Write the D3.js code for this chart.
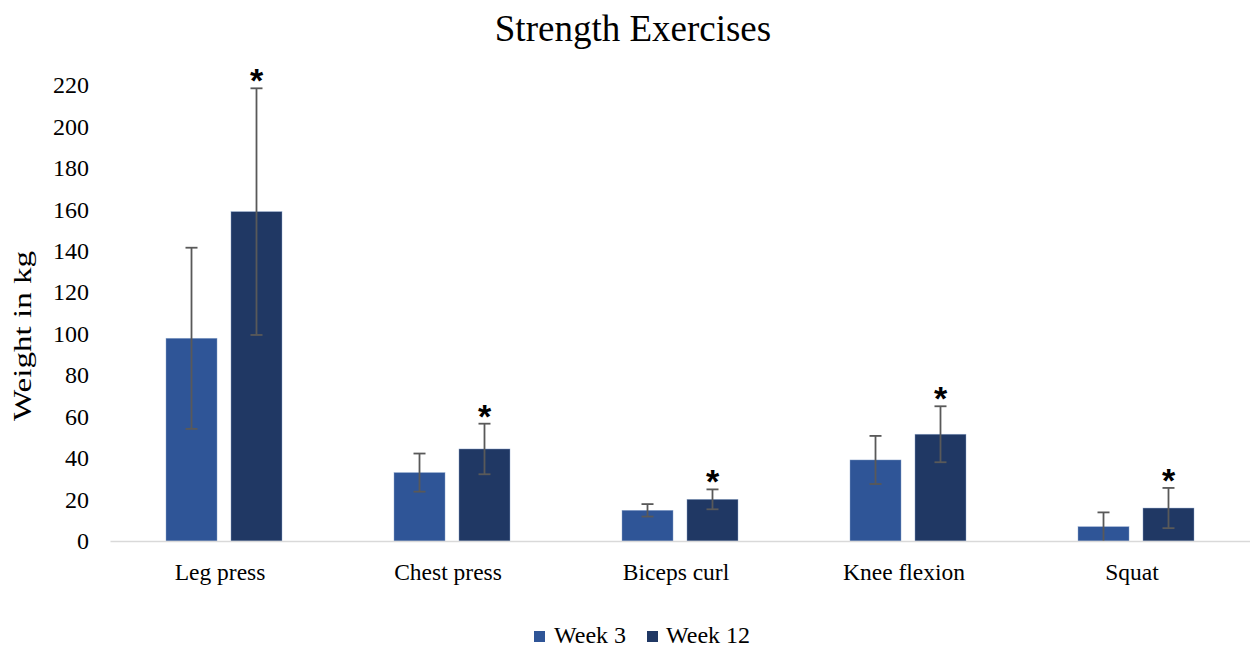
<!DOCTYPE html>
<html>
<head>
<meta charset="utf-8">
<script src="https://cdn.jsdelivr.net/npm/d3@7"></script>
<style>
  html, body { margin: 0; padding: 0; background: #fff; }
  svg { display: block; }
  text { font-family: "Liberation Serif", "Times New Roman", serif; fill: #000; }
</style>
</head>
<body>
<svg id="chart" width="1250" height="648"></svg>
<script>
const categories = ["Leg press", "Chest press", "Biceps curl", "Knee flexion", "Squat"];
const seriesNames = ["Week 3", "Week 12"];
const week3 = [97.8, 33.0, 14.8, 39.1, 6.9];
const week12 = [158.9, 44.4, 20.1, 51.5, 15.9];
const week3Err = [43.7, 9.2, 3.0, 11.6, 6.9];
const week12Err = [59.5, 12.2, 4.8, 13.5, 9.7];
const significant = [true, true, true, true, true];
const yTicks = [0, 20, 40, 60, 80, 100, 120, 140, 160, 180, 200, 220];
const colors = ["#2F5597", "#203864"];

(function () {
const svg = d3.select("#chart");
const plotLeft = 110, plotRight = 1250, plotTop = 85, plotBottom = 541;

const x = d3.scaleBand().domain(categories).range([plotLeft, plotRight]).padding(0);
const x1 = d3.scaleBand().domain(seriesNames).range([-58, 58]).paddingInner(0.215).paddingOuter(0);
const y = d3.scaleLinear().domain([0, 220]).range([plotBottom, plotTop]);

// Title
svg.append("text").attr("x", 633).attr("y", 41).attr("text-anchor", "middle")
  .style("font-size", "37px").text("Strength Exercises");

// Y axis labels
const yAxis = d3.axisLeft(y).tickValues(yTicks).tickSize(0).tickPadding(0);
const gy = svg.append("g").attr("transform", `translate(89,0)`).call(yAxis);
gy.select(".domain").remove();
gy.selectAll("text").style("font-size", "24px").style("font-family", '"Liberation Serif", serif').attr("fill", "#000");

// Y title
svg.append("text").attr("transform", "translate(31,336) rotate(-90)")
  .attr("text-anchor", "middle").style("font-size", "26px")
  .attr("textLength", 170).attr("lengthAdjust", "spacingAndGlyphs")
  .text("Weight in kg");

// Data rows
const rows = categories.map((c, i) => ({
  cat: c,
  vals: [
    { s: seriesNames[0], v: week3[i], e: week3Err[i], sig: false, k: 0 },
    { s: seriesNames[1], v: week12[i], e: week12Err[i], sig: significant[i], k: 1 }
  ]
}));

const gCat = svg.append("g").selectAll("g").data(rows).join("g")
  .attr("transform", d => `translate(${x(d.cat) + x.bandwidth() / 2},0)`);

gCat.selectAll("rect").data(d => d.vals).join("rect")
  .attr("x", d => x1(d.s))
  .attr("width", x1.bandwidth())
  .attr("y", d => y(d.v))
  .attr("height", d => y(0) - y(d.v))
  .attr("fill", d => colors[d.k])
  .attr("stroke", "#8fa6cc").attr("stroke-width", 0.6).attr("stroke-opacity", 0.7);

// Error bars
const eb = gCat.selectAll("g.err").data(d => d.vals).join("g").attr("class", "err")
  .attr("transform", d => `translate(${x1(d.s) + x1.bandwidth() / 2},0)`);
eb.append("line").attr("x1", 0).attr("x2", 0)
  .attr("y1", d => y(d.v + d.e)).attr("y2", d => y(Math.max(0, d.v - d.e)))
  .attr("stroke", "#595959").attr("stroke-width", 1.8);
eb.append("line").attr("x1", -6).attr("x2", 6)
  .attr("y1", d => y(d.v + d.e)).attr("y2", d => y(d.v + d.e))
  .attr("stroke", "#595959").attr("stroke-width", 1.8);
eb.filter(d => d.v - d.e > 0.5).append("line").attr("x1", -6).attr("x2", 6)
  .attr("y1", d => y(d.v - d.e)).attr("y2", d => y(d.v - d.e))
  .attr("stroke", "#595959").attr("stroke-width", 1.8);

// Asterisks
eb.filter(d => d.sig).append("text")
  .attr("x", 0).attr("y", d => y(d.v + d.e) + 4)
  .attr("text-anchor", "middle")
  .style("font-family", '"Liberation Sans", Arial, sans-serif')
  .style("font-weight", "bold")
  .style("font-size", "34px")
  .text("*");

// X axis
const xAxis = d3.axisBottom(x).tickSize(0).tickPadding(0);
const gx = svg.append("g").attr("transform", `translate(0,${plotBottom})`).call(xAxis);
gx.select(".domain").attr("stroke", "#d9d9d9").attr("stroke-width", 1.5);
gx.selectAll("text").attr("dy", "0").attr("y", 39).attr("x", -4)
  .style("font-size", "23.5px").style("font-family", '"Liberation Serif", serif').attr("fill", "#000");

// Legend
const legendItems = [
  { name: seriesNames[0], sx: 534, tx: 554 },
  { name: seriesNames[1], sx: 647, tx: 666 }
];
const lg = svg.append("g");
legendItems.forEach((d, i) => {
  lg.append("rect").attr("x", d.sx).attr("y", 631).attr("width", 11).attr("height", 11).attr("fill", colors[i]);
  lg.append("text").attr("x", d.tx).attr("y", 643).style("font-size", "24px").text(d.name);
});
})();
</script>
</body>
</html>
